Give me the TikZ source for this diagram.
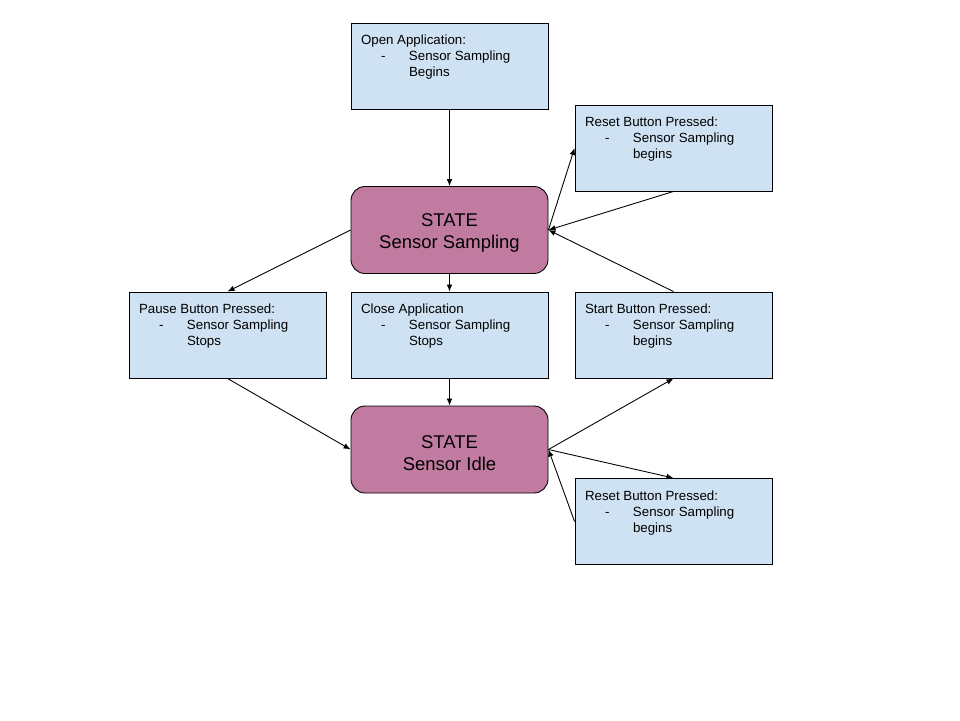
\documentclass[tikz,border=0pt]{standalone}
\usepackage{fontspec}
\setmainfont{Liberation Sans}
\usetikzlibrary{arrows.meta}
\definecolor{eventblue}{RGB}{207,226,243}
\definecolor{statepink}{RGB}{194,123,160}
\newcommand{\evt}[3]{\parbox[c][1.32cm][t]{3.54cm}{\fontsize{7.57}{9.1}\selectfont\vspace*{1.3pt}#1\\\hspace*{0.4cm}\makebox[0.56cm][l]{-}#2\\\hspace*{0.96cm}#3}}

\begin{document}
\begin{tikzpicture}[>={Latex[length=4pt,width=3.2pt]}]
\tikzstyle{event}=[rectangle,draw,fill=eventblue,line width=0.5pt,minimum width=3.94cm,minimum height=1.72cm,inner sep=0.2cm]
\tikzstyle{state}=[rectangle,rounded corners=0.28cm,draw,fill=statepink,line width=0.5pt,minimum width=3.94cm,minimum height=1.74cm,align=center,font=\fontsize{10.5}{12.5}\selectfont]
\useasboundingbox (0,0) rectangle (19.2,-14.4);
\node[event] (E_1) at (8.99,-1.32)  {\evt{Open Application:}{Sensor Sampling}{Begins}};
\node[event] (E_2) at (13.47,-2.96) {\evt{Reset Button Pressed:}{Sensor Sampling}{begins}};
\node[state] (S_1) at (8.99,-4.60)  {\rule{0pt}{11pt}STATE\\Sensor Sampling};
\node[event] (E_3) at (4.55,-6.70)  {\evt{Pause Button Pressed:}{Sensor Sampling}{Stops}};
\node[event] (E_4) at (8.99,-6.70)  {\evt{Close Application}{Sensor Sampling}{Stops}};
\node[event] (E_5) at (13.47,-6.70) {\evt{Start Button Pressed:}{Sensor Sampling}{begins}};
\node[state] (S_2) at (8.99,-8.99)  {\rule{0pt}{11pt}STATE\\Sensor Idle};
\node[event] (E_6) at (13.47,-10.43) {\evt{Reset Button Pressed:}{Sensor Sampling}{begins}};
\draw[->,line width=0.5pt] (E_1.south) -- (S_1.north);
\draw[->,line width=0.5pt] (S_1.south) -- (E_4.north);
\draw[->,line width=0.5pt] (E_4.south) -- (S_2.north);
\draw[->,line width=0.5pt] (S_1.west) -- (E_3.north);
\draw[->,line width=0.5pt] (E_3.south) -- (S_2.west);
\draw[->,line width=0.5pt] (S_2.east) -- (E_5.south);
\draw[->,line width=0.5pt] (S_2.east) -- (E_6.north);
\draw[->,line width=0.5pt] (E_6.west) -- (S_2.east);
\draw[->,line width=0.5pt] (E_5.north) -- (S_1.east);
\draw[->,line width=0.5pt] (E_2.south) -- (S_1.east);
\draw[->,line width=0.5pt] (S_1.east) -- (E_2.west);
\end{tikzpicture}
\end{document}
